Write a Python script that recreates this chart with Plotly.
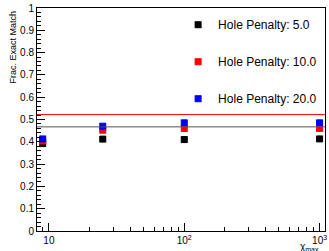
import plotly.graph_objects as go

chi_max = [9, 25, 100, 1000]
frac_hp5 = [0.392, 0.412, 0.410, 0.413]
frac_hp10 = [0.404, 0.452, 0.460, 0.460]
frac_hp20 = [0.413, 0.470, 0.485, 0.485]
series_names = ["Hole Penalty: 5.0", "Hole Penalty: 10.0", "Hole Penalty: 20.0"]
series_colors = ["#000000", "#ff0000", "#0000ff"]
ref_red = 0.522
ref_gray = 0.467

fig = go.Figure()
for i, (name, vals, col) in enumerate(zip(series_names, [frac_hp5, frac_hp10, frac_hp20], series_colors)):
    fig.add_trace(go.Scatter(
        x=chi_max, y=vals, mode="markers", name=name, legendgroup=f"g{i}",
        marker=dict(symbol="square-x", size=6, color=col, line=dict(color=col, width=1)),
    ))

fig.add_hline(y=ref_red, line=dict(color="#ff0000", width=1))
fig.add_hline(y=ref_gray, line=dict(color="#555555", width=1))

minor_x = [v * m for m in (1, 10, 100) for v in range(2, 10) if v * m < 1000 and v * m > 8]

fig.update_layout(
    width=329, height=251,
    margin=dict(l=37, r=2, t=8, b=20),
    paper_bgcolor="white", plot_bgcolor="white",
    font=dict(family="Liberation Sans, Arial, sans-serif", size=10, color="black"),
    showlegend=True,
    legend=dict(x=0.49, y=0.99, xanchor="left", yanchor="top", tracegroupgap=18,
                font=dict(size=12), bgcolor="rgba(0,0,0,0)"),
    xaxis=dict(type="log", range=[0.912, 3.04], showgrid=False, zeroline=False,
               showline=True, linecolor="black", linewidth=1, mirror=True,
               ticks="inside", ticklen=8, tickcolor="black", ticklabeloverflow="allow",
               tickvals=[10, 100, 1000], ticktext=["10", "10<sup>2</sup>", "10<sup>3</sup>"],
               minor=dict(ticks="inside", ticklen=4, tickcolor="black", tickvals=minor_x),
               tickfont=dict(size=10)),
    yaxis=dict(range=[0, 1.0], showgrid=False, zeroline=False,
               showline=True, linecolor="black", linewidth=1, mirror=True,
               ticks="inside", ticklen=8, tickcolor="black",
               tickvals=[0, 0.1, 0.2, 0.3, 0.4, 0.5, 0.6, 0.7, 0.8, 0.9, 1],
               ticktext=["0", "0.1", "0.2", "0.3", "0.4", "0.5", "0.6", "0.7", "0.8", "0.9", "1"],
               minor=dict(ticks="inside", ticklen=4, tickcolor="black", dtick=0.02),
               tickfont=dict(size=10)),
)
fig.add_annotation(x=1, y=0, xref="paper", yref="paper", xanchor="right", yanchor="top",
                   yshift=-8, xshift=-4, showarrow=False,
                   text="χ<sub>max</sub>", font=dict(size=10))
fig.add_annotation(x=0, y=1, xref="paper", yref="paper", xanchor="center", yanchor="top",
                   xshift=-25, yshift=-1, showarrow=False, textangle=-90,
                   text="Frac. Exact Match", font=dict(size=9))
fig.write_html("out.html", config={"displayModeBar": False},
               post_script="document.body.style.margin='0';document.body.style.overflow='hidden';")
